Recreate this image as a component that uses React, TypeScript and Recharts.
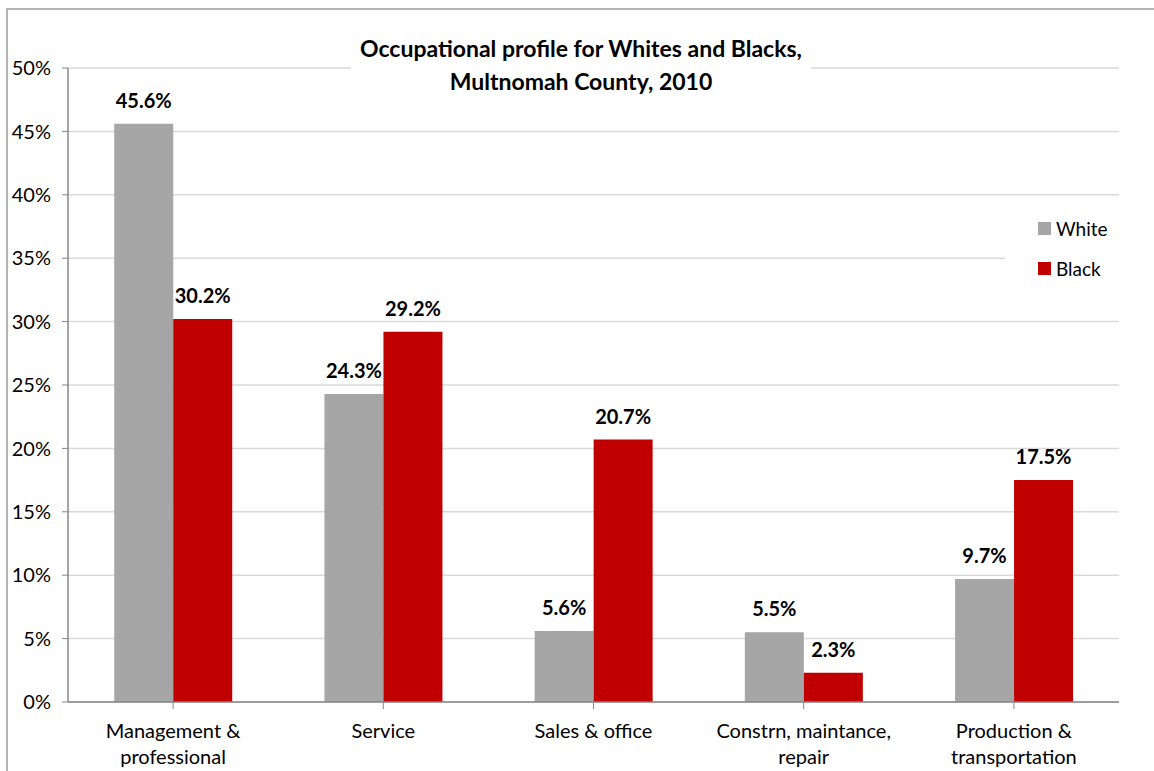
import { Bar, BarChart, CartesianGrid, LabelList, Legend, XAxis, YAxis } from "recharts";

const FONT = "Lato, 'Noto Sans', sans-serif";

const categories = [
  "Management &\nprofessional",
  "Service",
  "Sales & office",
  "Constrn, maintance,\nrepair",
  "Production &\ntransportation",
];
const whiteShare = [45.6, 24.3, 5.6, 5.5, 9.7];
const blackShare = [30.2, 29.2, 20.7, 2.3, 17.5];
const yTicks = [0, 5, 10, 15, 20, 25, 30, 35, 40, 45, 50];

const data = categories.map((name, i) => ({
  name,
  White: whiteShare[i],
  Black: blackShare[i],
}));

const GREY = "#a6a6a6";
const RED = "#c00000";

/** Category tick with manual line breaks. */
// eslint-disable-next-line @typescript-eslint/no-explicit-any
function CategoryTick({ x, y, payload }: any) {
  const lines = String(payload?.value ?? "").split("\n");
  return (
    <text x={x} y={y} textAnchor="middle" fill="#000" fontSize={20} fontFamily={FONT}>
      {lines.map((line, i) => (
        <tspan key={i} x={x} dy={i === 0 ? 27 : 26}>
          {line}
        </tspan>
      ))}
    </text>
  );
}

function LegendBox() {
  const items = [
    { label: "White", color: GREY },
    { label: "Black", color: RED },
  ];
  return (
    <div style={{ fontFamily: FONT, fontSize: 19, color: "#000" }}>
      {items.map((it) => (
        <div
          key={it.label}
          style={{ display: "flex", alignItems: "center", height: 40, paddingLeft: 33 }}
        >
          <span
            style={{ width: 13, height: 13, background: it.color, marginRight: 5 }}
          />
          {it.label}
        </div>
      ))}
    </div>
  );
}

export default function App() {
  return (
    <div
      style={{
        position: "fixed",
        left: 0,
        top: 0,
        width: 1154,
        height: 771,
        overflow: "hidden",
        background: "#fff",
      }}
    >
      <div
        style={{
          position: "absolute",
          left: 6,
          top: 8,
          width: 1300,
          height: 900,
          borderTop: "2px solid #b3b3b3",
          borderLeft: "2px solid #b3b3b3",
        }}
      />
      <BarChart
        width={1154}
        height={771}
        data={data}
        margin={{ top: 68, right: 35, bottom: 9, left: 18 }}
        barCategoryGap="22%"
        barGap={0}
        style={{ position: "absolute", left: 0, top: 0 }}
      >
        <CartesianGrid vertical={false} stroke="#d9d9d9" strokeWidth={1.5} />
        <XAxis
          dataKey="name"
          height={60}
          interval={0}
          tickSize={7}
          tickLine={{ stroke: "#868686" }}
          axisLine={{ stroke: "#868686", strokeWidth: 1.5 }}
          tick={(props) => <CategoryTick {...props} />}
        />
        <YAxis
          width={50}
          domain={[0, 50]}
          ticks={yTicks}
          interval={0}
          tickSize={6}
          tickMargin={11}
          tickFormatter={(v) => `${v}%`}
          tickLine={{ stroke: "#868686" }}
          axisLine={{ stroke: "#868686", strokeWidth: 1.5 }}
          tick={{ fill: "#000", fontSize: 20, fontFamily: FONT }}
        />
        <Legend
          layout="vertical"
          align="center"
          verticalAlign="middle"
          content={() => <LegendBox />}
          wrapperStyle={{
            left: 1005,
            top: 200,
            width: 115,
            height: 115,
            background: "#fff",
            paddingTop: 8,
            boxSizing: "border-box",
          }}
        />
        <Bar dataKey="White" fill={GREY} isAnimationActive={false}>
          <LabelList
            dataKey="White"
            position="top"
            offset={16}
            formatter={(v: number) => `${v.toFixed(1)}%`}
            style={{ fill: "#000", fontSize: 20, fontWeight: 700, fontFamily: FONT }}
          />
        </Bar>
        <Bar dataKey="Black" fill={RED} isAnimationActive={false}>
          <LabelList
            dataKey="Black"
            position="top"
            offset={16}
            formatter={(v: number) => `${v.toFixed(1)}%`}
            style={{ fill: "#000", fontSize: 20, fontWeight: 700, fontFamily: FONT }}
          />
        </Bar>
      </BarChart>
      <div
        style={{
          position: "absolute",
          left: 351,
          top: 32,
          width: 460,
          background: "#fff",
          textAlign: "center",
          fontFamily: FONT,
          fontWeight: 700,
          fontSize: 23,
          lineHeight: "33px",
          color: "#000",
        }}
      >
        Occupational profile for Whites and Blacks,
        <br />
        Multnomah County, 2010
      </div>
    </div>
  );
}
